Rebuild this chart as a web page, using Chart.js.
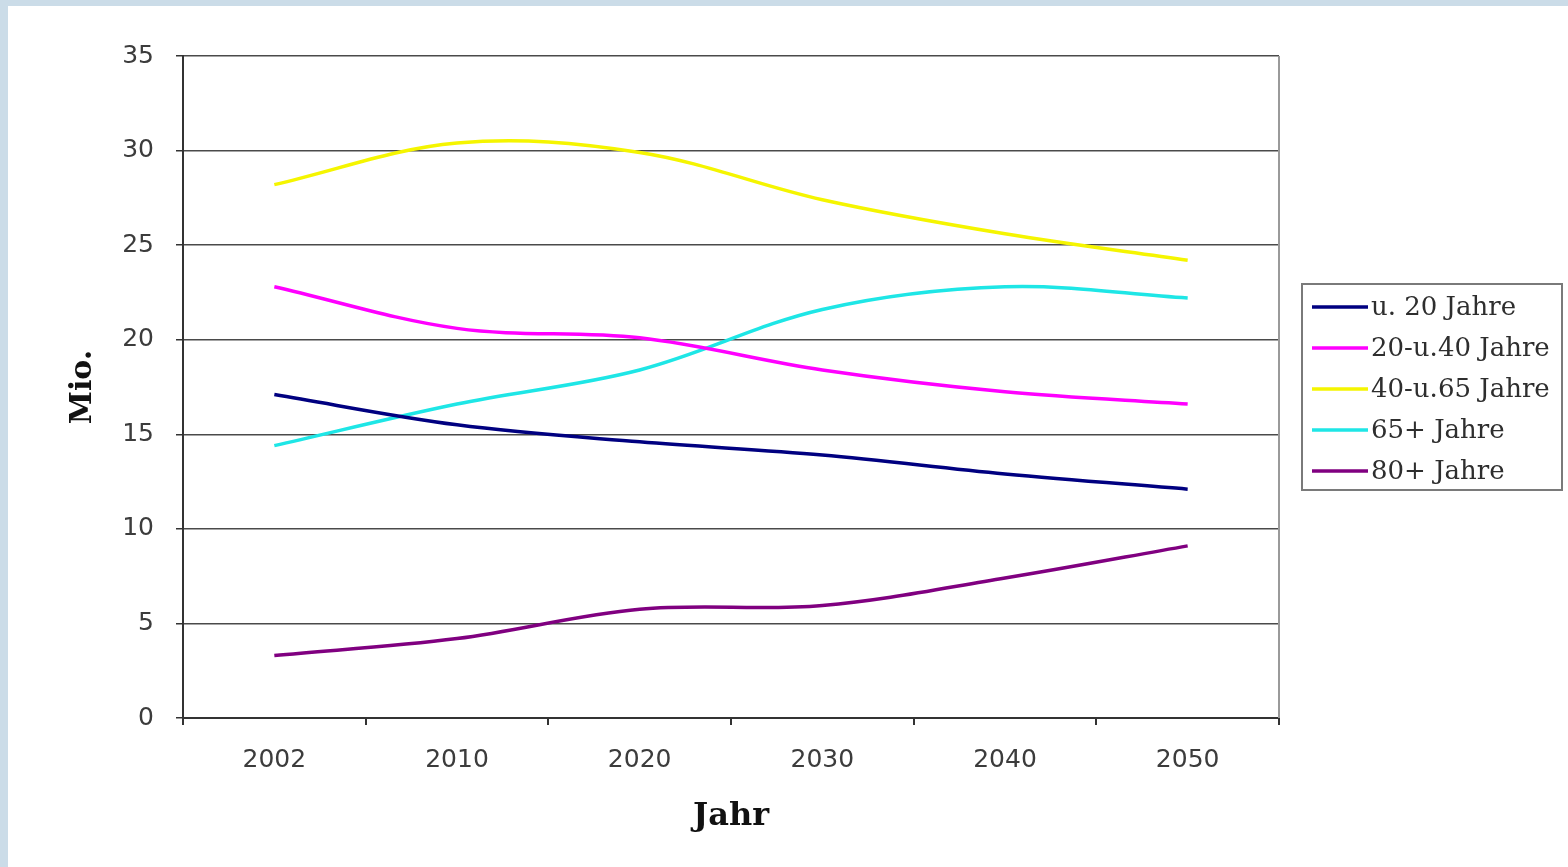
<!DOCTYPE html>
<html lang="de">
<head>
<meta charset="utf-8">
<title>Bevölkerung nach Altersgruppen</title>
<script src="https://cdn.jsdelivr.net/npm/chart.js@4.4.1/dist/chart.umd.min.js"></script>
<style>
    html, body {
        margin: 0;
        padding: 0;
        background: #cbdce8;
        overflow: hidden;
    }
    #rahmen {
        position: absolute;
        left: 8px;
        top: 6px;
        width: 1560px;
        height: 861px;
        background: #ffffff;
    }
</style>
</head>
<body>
<div id="rahmen">
    <canvas id="grafikBevoelkerung" width="1560" height="861"></canvas>
</div>
<script>
// Jahre (Kategorien) und Werte in Mio.
const jahre = ["2002", "2010", "2020", "2030", "2040", "2050"];

const unter20 = [17.1, 15.5, 14.6, 13.9, 12.9, 12.1];
const von20bis40 = [22.8, 20.6, 20.1, 18.4, 17.25, 16.6];
const von40bis65 = [28.2, 30.4, 29.9, 27.4, 25.6, 24.2];
const ab65 = [14.4, 16.6, 18.4, 21.6, 22.8, 22.2];
const ab80 = [3.3, 4.2, 5.75, 5.95, 7.4, 9.1];

const gruppen = ["u. 20 Jahre", "20-u.40 Jahre", "40-u.65 Jahre", "65+ Jahre", "80+ Jahre"];
const farben = ["#000080", "#ff00ff", "#f5f500", "#1ee6e6", "#800080"];

const yMin = 0;
const yMax = 35;
const ySchritt = 5;

const serien = [unter20, von20bis40, von40bis65, ab65, ab80];

// Legende mit Rahmen rechts neben der Zeichnungsfläche
const legendeMitRahmen = {
    id: "legendeMitRahmen",
    afterDraw(chart) {
        const ctx = chart.ctx;
        const area = chart.chartArea;
        const breite = 260;
        const zeilenAbstand = 41;
        const hoehe = 206;
        const links = area.right + 23;
        const oben = (area.top + area.bottom) / 2 - hoehe / 2;

        ctx.save();
        ctx.strokeStyle = "#7a7a7a";
        ctx.lineWidth = 2;
        ctx.strokeRect(links, oben, breite, hoehe);

        ctx.font = "26px 'DejaVu Serif'";
        ctx.textBaseline = "middle";
        ctx.textAlign = "left";

        chart.data.datasets.forEach((ds, i) => {
            const y = oben + 23 + i * zeilenAbstand;
            ctx.strokeStyle = ds.borderColor;
            ctx.lineWidth = 3.5;
            ctx.beginPath();
            ctx.moveTo(links + 10, y);
            ctx.lineTo(links + 66, y);
            ctx.stroke();
            ctx.fillStyle = "#2e2e2e";
            ctx.fillText(ds.label, links + 69, y + 1);
        });

        // rechte Begrenzung der Zeichnungsfläche
        ctx.strokeStyle = "#9a9a9a";
        ctx.lineWidth = 2;
        ctx.beginPath();
        ctx.moveTo(area.right, area.top);
        ctx.lineTo(area.right, area.bottom);
        ctx.stroke();
        ctx.restore();
    }
};

const ctx = document.getElementById("grafikBevoelkerung").getContext("2d");

new Chart(ctx, {
    type: "line",
    data: {
        labels: jahre,
        datasets: gruppen.map((name, i) => ({
            label: name,
            data: serien[i],
            borderColor: farben[i],
            backgroundColor: farben[i],
            borderWidth: 3.5,
            pointRadius: 0,
            tension: 0.35,
            fill: false
        }))
    },
    options: {
        responsive: false,
        animation: false,
        layout: {
            padding: { left: 0, top: 50, right: 289, bottom: 0 }
        },
        plugins: {
            legend: { display: false },
            tooltip: { enabled: false }
        },
        scales: {
            x: {
                offset: true,
                grid: {
                    offset: true,
                    drawOnChartArea: false,
                    drawTicks: true,
                    tickLength: 7,
                    color: "#333333",
                    lineWidth: 2
                },
                border: { display: true, color: "#333333", width: 2 },
                ticks: {
                    color: "#3c3c3c",
                    font: { family: "'DejaVu Sans'", size: 25 },
                    padding: 20,
                    maxRotation: 0,
                    autoSkip: false
                },
                title: {
                    display: true,
                    text: "Jahr",
                    color: "#111111",
                    font: { family: "'DejaVu Serif'", size: 32, weight: "bold" },
                    padding: { top: 0, bottom: 31 }
                },
                afterFit(scale) {
                    scale.height = 149;
                }
            },
            y: {
                min: yMin,
                max: yMax,
                ticks: {
                    stepSize: ySchritt,
                    color: "#3c3c3c",
                    font: { family: "'DejaVu Sans'", size: 25 },
                    padding: 22
                },
                grid: {
                    color: "#4a4a4a",
                    lineWidth: 1.5,
                    tickLength: 7,
                    tickColor: "#333333"
                },
                border: { display: true, color: "#333333", width: 2 },
                title: {
                    display: true,
                    text: "Mio.",
                    color: "#111111",
                    font: { family: "'DejaVu Serif'", size: 30, weight: "bold" },
                    padding: { top: 57, bottom: 0 }
                },
                afterFit(scale) {
                    scale.width = 175;
                }
            }
        }
    },
    plugins: [legendeMitRahmen]
});
</script>
</body>
</html>
